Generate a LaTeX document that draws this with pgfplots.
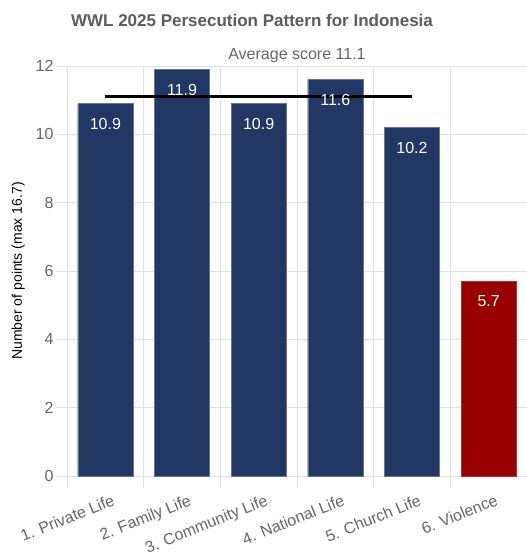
\documentclass[border=0pt]{standalone}
\usepackage{pgfplots}
\pgfplotsset{compat=1.18}
\usepackage{fontspec}
\setmainfont{Liberation Sans}

\definecolor{navy}{HTML}{213864}
\definecolor{wwlred}{HTML}{990000}
\definecolor{gridgray}{HTML}{E0E0E0}
\definecolor{txtgray}{HTML}{666666}

\begin{document}
\begin{tikzpicture}
\useasboundingbox (-67pt,-81pt) rectangle (460pt,476pt);
\begin{axis}[
    at={(0,0)}, anchor=south west,
    scale only axis,
    width=460pt, height=410pt,
    xmin=0.5, xmax=6.5,
    ymin=0, ymax=12,
    ybar, bar width=0.72, bar shift=0pt,
    axis line style={draw=none},
    xtick={1,2,3,4,5,6},
    xticklabels={1. Private Life,2. Family Life,3. Community Life,4. National Life,5. Church Life,6. Violence},
    minor xtick={0.5,1.5,2.5,3.5,4.5,5.5,6.5},
    xminorgrids=true,
    major x tick style={draw=none},
    minor x tick style={draw=gridgray, line width=0.8pt},
    minor tick length=12pt,
    ytick={0,2,4,6,8,10,12},
    ymajorgrids=true,
    grid style={draw=gridgray, line width=0.8pt},
    y tick style={draw=gridgray, line width=0.8pt},
    major tick length=10pt,
    tick align=outside,
    tick pos=left,
    /pgf/number format/assume math mode=true,
    ticklabel style={font=\fontsize{16}{18}\selectfont, text=txtgray},
    xticklabel style={rotate=22, anchor=north east, xshift=6pt, yshift=-6pt},
    ylabel={Number of points (max 16.7)},
    ylabel style={font=\fontsize{14}{16}\selectfont, text=black, yshift=4pt},
    title={Average score 11.1},
    title style={font=\fontsize{16}{18}\selectfont, text=txtgray, yshift=-6pt},
    nodes near coords,
    every node near coord/.append style={font=\fontsize{16}{18}\selectfont, text=white, anchor=north, yshift=-11pt},
]
\addplot[fill=navy, draw=navy!70!white] coordinates {(1,10.9)(2,11.9)(3,10.9)(4,11.6)(5,10.2)};
\addplot[fill=wwlred, draw=wwlred!80!white] coordinates {(6,5.7)};
\addplot[sharp plot, black, line width=3.5pt, nodes near coords={}, forget plot] coordinates {(1,11.1)(5,11.1)};
\end{axis}
\node[font=\bfseries\fontsize{17}{19}\selectfont, text=txtgray!90!black] at (185pt,456pt) {WWL 2025 Persecution Pattern for Indonesia};
\end{tikzpicture}
\end{document}
